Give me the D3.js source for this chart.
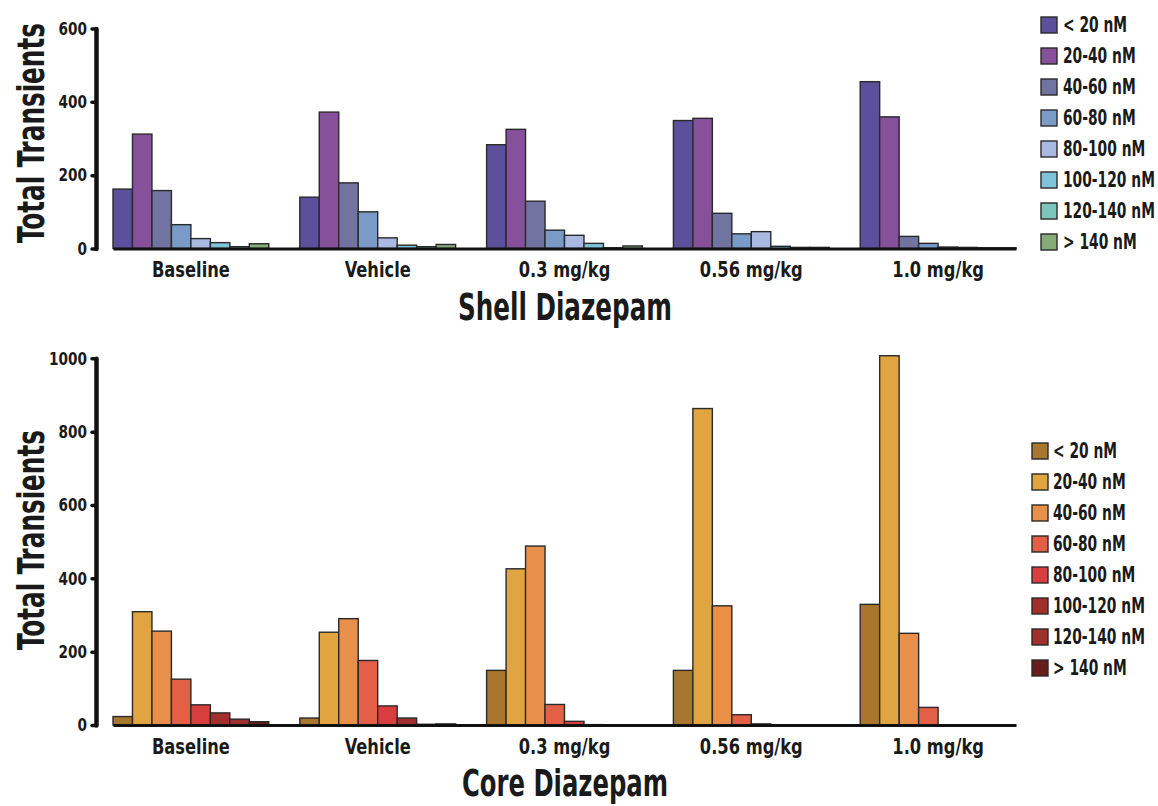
<!DOCTYPE html>
<html>
<head>
<meta charset="utf-8">
<script src="https://cdn.jsdelivr.net/npm/d3@7"></script>
<style>
  body { margin: 0; background: #fff; }
  svg text { font-family: "Liberation Sans Narrow", "DejaVu Sans Condensed", sans-serif; font-weight: bold; fill: #1a1a1a; }
</style>
</head>
<body>
<svg width="1158" height="806"></svg>
<script>
// groups along the x axis
var doses = ["Baseline", "Vehicle", "0.3 mg/kg", "0.56 mg/kg", "1.0 mg/kg"];
// concentration bins (legend)
var bins = ["< 20 nM", "20-40 nM", "40-60 nM", "60-80 nM", "80-100 nM", "100-120 nM", "120-140 nM", "> 140 nM"];

// shell: one array per dose, one value per bin
var shellBaseline = [162, 312, 158, 65, 27, 16, 5, 13];
var shellVehicle  = [140, 372, 179, 100, 29, 9, 5, 11];
var shell03       = [283, 325, 129, 50, 36, 14, 2, 7];
var shell056      = [349, 355, 96, 40, 46, 6, 3, 3];
var shell10       = [455, 359, 33, 14, 4, 3, 2, 2];

// core
var coreBaseline = [23, 309, 256, 125, 55, 33, 16, 9];
var coreVehicle  = [19, 253, 290, 176, 52, 19, 2, 3];
var core03       = [149, 426, 488, 56, 10, 1, 0, 0];
var core056      = [149, 863, 325, 28, 3, 0, 0, 0];
var core10       = [329, 1007, 250, 48, 0, 0, 0, 0];

var shellTicks = [0, 200, 400, 600];
var coreTicks = [0, 200, 400, 600, 800, 1000];

var shellColors = ["#5c509c", "#86509b", "#7174a0", "#7a9ac8", "#a9b9e1", "#7ec4d9", "#7cc7bb", "#86ab77"];
var coreColors  = ["#a8762c", "#e0a540", "#e8904a", "#e36047", "#d93e3f", "#a22f2e", "#a0302f", "#651e1c"];

var svg = d3.select("svg");

// the original uses a bold condensed face; squeeze our font sideways to match widths
function squeeze(sel, refText, target) {
  var probe = svg.append("text").style("font-size", sel.style("font-size")).text(refText);
  var sx = target / probe.node().getComputedTextLength();
  probe.remove();
  return sx;
}

function drawPanel(opts) {
  var x = d3.scaleBand().domain(doses).range([113, 1016]).paddingInner(0.166).paddingOuter(0);
  var xi = d3.scaleBand().domain(bins).range([0, x.bandwidth()]);
  var y = d3.scaleLinear().domain([0, opts.max]).range([opts.y0, opts.y1]);

  var g = svg.append("g");

  // bars
  var rows = doses.map(function (d, i) { return { dose: d, values: opts.data[i] }; });
  var grp = g.selectAll(".grp")
    .data(rows)
    .enter().append("g")
    .attr("class", "grp")
    .attr("transform", function (d) { return "translate(" + x(d.dose) + ",0)"; });

  grp.selectAll("rect")
    .data(function (d) { return d.values.map(function (v, j) { return { bin: bins[j], value: v, j: j }; }); })
    .enter().append("rect")
    .attr("x", function (d) { return xi(d.bin); })
    .attr("y", function (d) { return y(d.value); })
    .attr("width", xi.bandwidth())
    .attr("height", function (d) { return y(0) - y(d.value); })
    .attr("fill", function (d) { return opts.colors[d.j]; })
    .attr("stroke", "#2a2a2a")
    .attr("stroke-width", 1.4);

  // x axis
  var xAxis = g.append("g")
    .attr("transform", "translate(0," + y(0) + ")")
    .call(d3.axisBottom(x).tickSize(0).tickPadding(13));
  xAxis.select(".domain").attr("stroke", "#111").attr("stroke-width", 3);
  var xt = xAxis.selectAll("text").style("font-size", "22px").attr("fill", "#1a1a1a");
  var sxX = squeeze(xt, "Baseline", 78);
  xt.attr("transform", "scale(" + sxX + ",1)");

  // y axis
  var yAxis = g.append("g")
    .attr("transform", "translate(96,0)")
    .call(d3.axisLeft(y).tickValues(opts.ticks).tickFormat(d3.format("d")).tickSize(4).tickPadding(5).tickSizeOuter(0));
  yAxis.select(".domain").attr("stroke", "#111").attr("stroke-width", 4.5).attr("stroke-linecap", "round");
  yAxis.selectAll(".tick line").attr("stroke", "#111").attr("stroke-width", 3.5).attr("stroke-linecap", "round");
  var yt = yAxis.selectAll("text").style("font-size", "18px").attr("fill", "#1a1a1a");
  var sxY = squeeze(yt, "600", 28.5);
  yt.attr("x", 0).attr("transform", "translate(-9,0) scale(" + sxY + ",1)");

  // y title
  var yTitle = g.append("text")
    .attr("text-anchor", "middle")
    .style("font-size", "37px")
    .text("Total Transients");
  yTitle.attr("transform", "translate(44," + opts.titleY + ") rotate(-90) scale(" + squeeze(yTitle, "Total Transients", 220) + ",1)");

  // x title
  var xTitle = g.append("text")
    .attr("text-anchor", "middle")
    .style("font-size", "37px")
    .text(opts.xTitle);
  xTitle.attr("transform", "translate(565," + opts.xTitleY + ") scale(" + squeeze(xTitle, opts.xTitle, opts.xTitleLen) + ",1)");

  // legend
  var leg = g.selectAll(".leg")
    .data(bins)
    .enter().append("g")
    .attr("class", "leg")
    .attr("transform", function (d, i) { return "translate(" + opts.legX + "," + (opts.legY + i * 31) + ")"; });
  leg.append("rect")
    .attr("width", 16)
    .attr("height", 16)
    .attr("fill", function (d, i) { return opts.colors[i]; })
    .attr("stroke", "#2a2a2a")
    .attr("stroke-width", 1.4);
  var lt = leg.append("text")
    .attr("dy", "0.36em")
    .style("font-size", "20.5px")
    .text(function (d) { return d; });
  var sxL = squeeze(lt, "100-120 nM", 92);
  lt.attr("transform", "translate(" + opts.legText + ",8) scale(" + sxL + ",1)");
}

drawPanel({
  data: [shellBaseline, shellVehicle, shell03, shell056, shell10],
  colors: shellColors,
  max: 600, ticks: shellTicks,
  y0: 248.5, y1: 28.5,
  titleY: 133,
  xTitle: "Shell Diazepam", xTitleY: 320, xTitleLen: 214,
  legX: 1041, legY: 17, legText: 22
});

drawPanel({
  data: [coreBaseline, coreVehicle, core03, core056, core10],
  colors: coreColors,
  max: 1000, ticks: coreTicks,
  y0: 725, y1: 358.3,
  titleY: 540,
  xTitle: "Core Diazepam", xTitleY: 796, xTitleLen: 206,
  legX: 1032, legY: 443, legText: 21
});
</script>
</body>
</html>
